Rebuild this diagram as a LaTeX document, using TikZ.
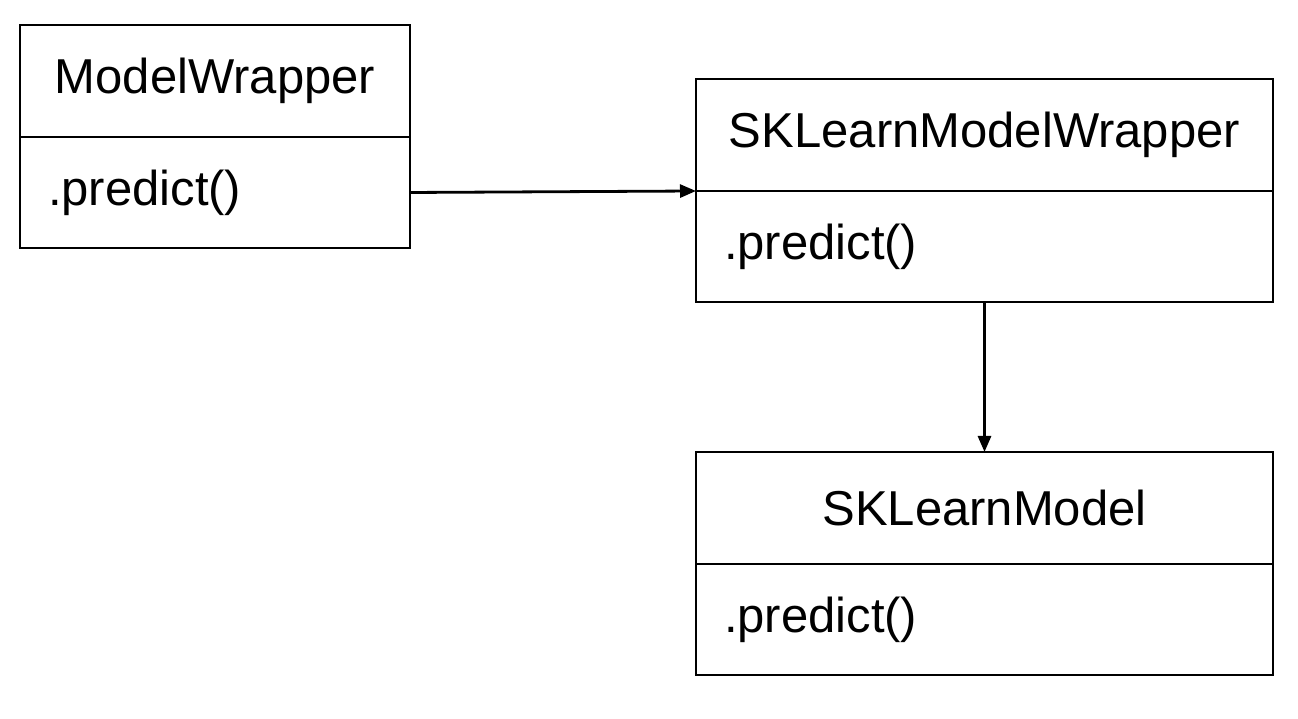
\documentclass[tikz,border=0pt]{standalone}
\usepackage{fontspec}
\setmainfont{Liberation Sans}
\usetikzlibrary{positioning,arrows.meta}

\begin{document}
\begin{tikzpicture}[line width=2.8pt,>={Triangle[length=16pt,width=13pt]},
    font=\fontsize{49}{59}\selectfont,
    header/.style={draw,rectangle,minimum height=112pt,inner sep=0pt,outer sep=0pt},
    methods/.style={draw,rectangle,minimum height=111pt,inner xsep=28pt,inner ysep=0pt,outer sep=0pt,align=left}]
      \useasboundingbox (0,0) rectangle (1298pt,719pt);
      % ModelWrapper
      \node[header,minimum width=390pt] (mw) at (215pt,638pt) {ModelWrapper};
      \node[methods,text width=334pt,below=0pt of mw] (mwm) {.predict()};
      % SKLearnModelWrapper
      \node[header,minimum width=577pt] (skw) at (984.5pt,584pt) {SKLearnModelWrapper};
      \node[methods,text width=521pt,below=0pt of skw] (skwm) {.predict()};
      % SKLearnModel
      \node[header,minimum width=577pt] (skm) at (984.5pt,211pt) {SKLearnModel};
      \node[methods,text width=521pt,below=0pt of skm] (skmm) {.predict()};
      \draw[->] (mwm.east) -- (skw.south west);
      \draw[->] (skwm.south) -- (skm.north);
    \end{tikzpicture}
\end{document}
